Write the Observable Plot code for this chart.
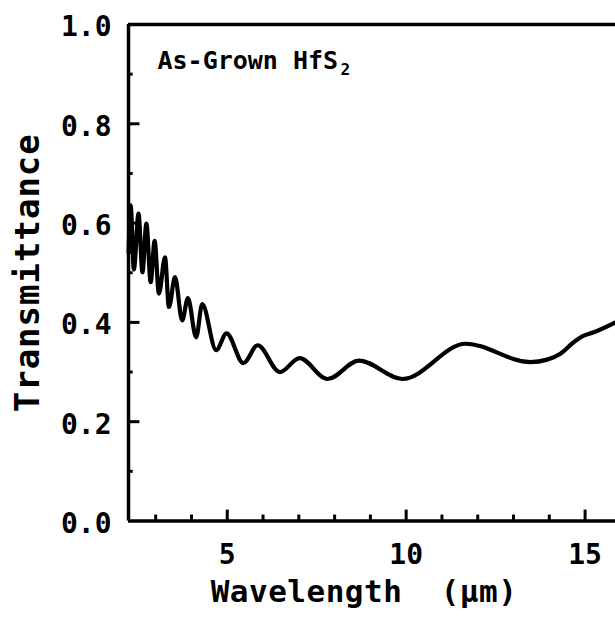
<!DOCTYPE html>
<html><head><meta charset="utf-8">
<script src="https://cdn.jsdelivr.net/npm/d3@7"></script>
<script src="https://cdn.jsdelivr.net/npm/@observablehq/plot@0.6"></script>
<style>
html,body{margin:0;padding:0;background:#fff;}
#chart svg{display:block;}
</style></head><body><div id="chart"></div>
<script>
// Data
const wavelength = [2.243, 2.30, 2.39, 2.52, 2.63, 2.74, 2.86, 2.97, 3.09, 3.26, 3.37, 3.54, 3.74, 3.90, 4.13, 4.30, 4.69, 4.98, 5.45, 5.85, 6.47, 7.02, 7.80, 8.68, 9.90, 11.66, 13.47, 13.94, 14.31, 14.68, 14.92, 15.24, 15.85];
const transmittance = [0.540, 0.636, 0.507, 0.619, 0.501, 0.599, 0.481, 0.564, 0.458, 0.531, 0.431, 0.491, 0.404, 0.449, 0.370, 0.437, 0.344, 0.378, 0.318, 0.354, 0.300, 0.328, 0.286, 0.323, 0.286, 0.357, 0.320, 0.325, 0.337, 0.360, 0.372, 0.380, 0.400];
const xDomain = [2.24, 15.85];
const yDomain = [0, 1];
const xMajorTicks = [5, 10, 15];
const xMinorTicks = [3, 4, 6, 7, 8, 9, 11, 12, 13, 14];
const yMajorTicks = [0, 0.2, 0.4, 0.6, 0.8, 1.0];
const yMinorTicks = [0.1, 0.3, 0.5, 0.7, 0.9];
const xLabel = "Wavelength  (\u03BCm)";
const yLabel = "Transmittance";
const annotation = "As-Grown HfS";
const annotationSub = "2";

const data = wavelength.map((w, i) => ({w, t: transmittance[i]}));
const x0 = xDomain[0];

const chart = Plot.plot({
  width: 615, height: 619,
  marginTop: 24, marginBottom: 98.5, marginLeft: 128, marginRight: 0,
  style: {fontFamily: "'DejaVu Sans Mono', monospace", fontWeight: "bold", color: "#000", background: "#fff"},
  x: {domain: xDomain},
  y: {domain: yDomain},
  marks: [
    Plot.axisY(yMajorTicks, {tickSize: 0, tickPadding: 17, dy: 3, fontSize: 28, tickFormat: d3.format(".1f"), label: null}),
    Plot.axisX(xMajorTicks, {tickSize: 0, tickPadding: 23, fontSize: 28, tickFormat: d => String(d), label: null}),
    // frame
    Plot.ruleX([x0], {stroke: "#000", strokeWidth: 3.5}),
    Plot.ruleY([0, 1], {stroke: "#000", strokeWidth: 3.5}),
    // inward ticks
    Plot.ruleX(xMajorTicks, {x: d => d, y1: 0, y2: 0.022, stroke: "#000", strokeWidth: 3}),
    Plot.ruleX(xMinorTicks, {x: d => d, y1: 0, y2: 0.012, stroke: "#000", strokeWidth: 3}),
    Plot.ruleY(yMajorTicks.filter(d => d > 0 && d < 1), {y: d => d, x1: x0, x2: x0 + 0.32, stroke: "#000", strokeWidth: 3}),
    Plot.ruleY(yMinorTicks, {y: d => d, x1: x0, x2: x0 + 0.13, stroke: "#000", strokeWidth: 3}),
    // curve
    Plot.line(data, {x: "w", y: "t", curve: "monotone-x", stroke: "#000", strokeWidth: 4.2, strokeLinejoin: "round"}),
    // texts
    Plot.text([xLabel], {text: d => d, frameAnchor: "bottom", textAnchor: "middle", dx: -8, dy: 71, fontSize: 31, lineAnchor: "middle"}),
    Plot.text([yLabel], {text: d => d, frameAnchor: "left", textAnchor: "middle", dx: -100, dy: 0, rotate: -90, fontSize: 34, lineAnchor: "middle"}),
    Plot.text([annotation], {text: d => d, frameAnchor: "top-left", dx: 29, dy: 36, fontSize: 25, textAnchor: "start", lineAnchor: "middle"}),
    Plot.text([annotationSub], {text: d => d, frameAnchor: "top-left", dx: 212, dy: 45, fontSize: 16, textAnchor: "start", lineAnchor: "middle"})
  ]
});
document.getElementById("chart").appendChild(chart);
chart.querySelectorAll("text").forEach(t => {
  if (t.textContent === yLabel) t.setAttribute("letter-spacing", "1");
  if (t.textContent === xLabel) t.setAttribute("letter-spacing", "0.5");
});
</script></body></html>
